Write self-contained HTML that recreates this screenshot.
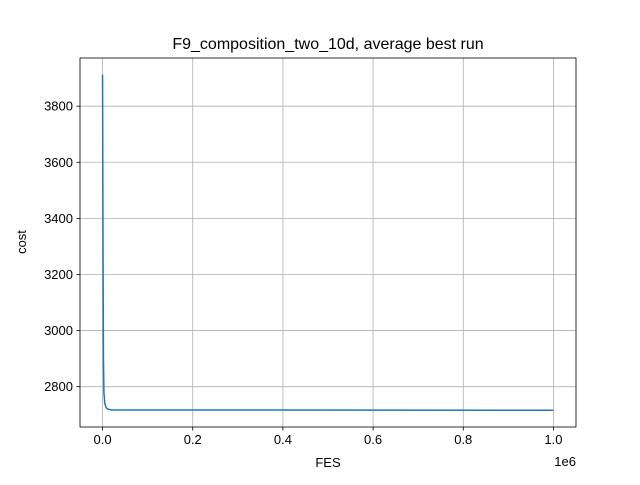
<!DOCTYPE html>
<html><head><meta charset="utf-8"><style>
body{margin:0;background:#fff;}
svg text{font-family:"Liberation Sans","DejaVu Sans",sans-serif;}
</style></head><body>
<svg id="chart" width="640" height="480" xmlns="http://www.w3.org/2000/svg">
<rect width="640" height="480" fill="#fff"/>
<g id="grid"></g>
<g id="ticks"></g>
<path id="line" fill="none" stroke="#1f77b4" stroke-width="1.5"/>
<rect x="80" y="58" width="496" height="369" fill="none" stroke="#000" stroke-width="0.8"/>
<text x="328" y="49" text-anchor="middle" font-size="16">F9_composition_two_10d, average best run</text>
<text x="328" y="467" text-anchor="middle" font-size="13">FES</text>
<text x="26" y="242" text-anchor="middle" font-size="13" transform="rotate(-90 26 242)">cost</text>
<text x="576" y="466" text-anchor="end" font-size="13">1e6</text>
</svg>
<script>
const fes=[0,1000,2000,3000,5000,8000,12000,20000,1000000];
const cost=[3912,3300,2900,2780,2740,2725,2720,2717,2716];
const xTicks=[0,0.2,0.4,0.6,0.8,1.0];
const xTickLabels=["0.0","0.2","0.4","0.6","0.8","1.0"];
const yTicks=[2800,3000,3200,3400,3600,3800];
const L=80,R=576,T=58,B=427;
const xmin=-0.05e6,xmax=1.05e6,ymin=2656.2,ymax=3971.8;
const X=v=>L+(v-xmin)/(xmax-xmin)*(R-L);
const Y=v=>B-(v-ymin)/(ymax-ymin)*(B-T);
const NS="http://www.w3.org/2000/svg";
const grid=document.getElementById('grid'),ticks=document.getElementById('ticks');
function mk(tag,attrs,parent){const e=document.createElementNS(NS,tag);for(const k in attrs)e.setAttribute(k,attrs[k]);parent.appendChild(e);return e;}
xTicks.forEach((t,i)=>{const x=X(t*1e6);
 const g=mk('line',{x1:x,x2:x,y1:T,y2:B,stroke:'#b0b0b0','stroke-width':0.8},grid);
 
 
 const tk=mk('line',{x1:x,x2:x,y1:B,y2:B+3.5,stroke:'#000','stroke-width':0.8},ticks);
 
 
 const tx=mk('text',{x:x,y:B+17,'text-anchor':'middle','font-size':13},ticks);tx.textContent=xTickLabels[i];
 
 
});
yTicks.forEach(t=>{const y=Y(t);
 const g=mk('line',{x1:L,x2:R,y1:y,y2:y,stroke:'#b0b0b0','stroke-width':0.8},grid);
 
 
 const tk=mk('line',{x1:L-3.5,x2:L,y1:y,y2:y,stroke:'#000','stroke-width':0.8},ticks);
 
 
 const tx=mk('text',{x:L-7,y:y+4.5,'text-anchor':'end','font-size':13},ticks);tx.textContent=t;
 
 
});
document.getElementById('line').setAttribute('d',fes.map((f,i)=>(i?'L':'M')+X(f).toFixed(2)+','+Y(cost[i]).toFixed(2)).join(''));
</script>
</body></html>
